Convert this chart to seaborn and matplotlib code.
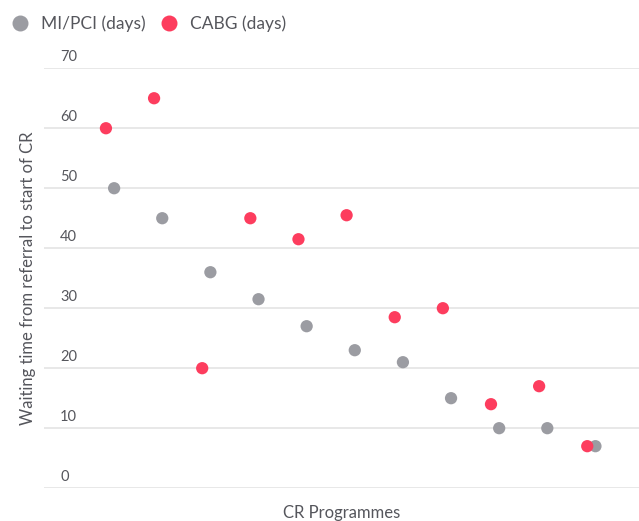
import numpy as np
import pandas as pd
import matplotlib
matplotlib.use("Agg")
import matplotlib.pyplot as plt
import matplotlib.transforms as mtrans
import seaborn as sns

# waiting time per CR programme (days)
programmes = [f"P{i+1}" for i in range(11)]
mi_pci = [50, 45, 36, 31.5, 27, 23, 21, 15, 10, 10, 7]
cabg = [60, 65, 20, 45, 41.5, 45.5, 28.5, 30, 14, 17, 7]
series_names = ["MI/PCI (days)", "CABG (days)"]
yticks = [0, 10, 20, 30, 40, 50, 60, 70]

idx = np.arange(len(programmes))
df = pd.concat([
    pd.DataFrame({"pos": idx + 0.085, "days": mi_pci, "series": series_names[0]}),
    pd.DataFrame({"pos": idx - 0.085, "days": cabg, "series": series_names[1]}),
])

sns.set_style("white")
plt.rcParams['font.family'] = ['Lato', 'DejaVu Sans']
text_col = "#55565c"

fig = plt.figure(figsize=(6.39, 5.21), dpi=100)
ax = fig.add_axes([0.069, 0.063, 0.931, 0.806])

pal = {"MI/PCI (days)": "#9b9ca2", "CABG (days)": "#fd3d5e"}
sns.scatterplot(data=df, x="pos", y="days", hue="series", palette=pal,
                s=78, linewidth=0, ax=ax, legend=False, zorder=3)

ax.set_xlim(-1.37, 10.99)
ax.set_ylim(0, 70)
ax.set_yticks(yticks)
ax.set_xticks([])
ax.grid(axis="y", color="#e6e6e6", linewidth=1.3)
for s in ax.spines.values():
    s.set_visible(False)
ax.tick_params(axis="y", length=0, pad=-11.5, labelsize=10.5, labelcolor=text_col)
off = mtrans.ScaledTranslation(0, 3 / 72, fig.dpi_scale_trans)
for lab in ax.get_yticklabels():
    lab.set_horizontalalignment("left")
    lab.set_verticalalignment("bottom")
    lab.set_transform(lab.get_transform() + off)

ax.set_xlabel("CR Programmes", fontsize=12, color=text_col, labelpad=12)
ax.set_ylabel("Waiting time from referral to start of CR", fontsize=12, color=text_col, labelpad=6)

handles = [plt.Line2D([], [], marker="o", linestyle="", markersize=11.5,
                      markerfacecolor=pal[n], markeredgewidth=0) for n in series_names]
fig.legend(handles, series_names, loc="upper left", bbox_to_anchor=(-0.003, 0.99), ncol=2,
           frameon=False, fontsize=12.5, labelcolor=text_col, handletextpad=0.55,
           handlelength=1.3, columnspacing=0.7, borderaxespad=0.2)

fig.savefig("out.png", dpi=100)
